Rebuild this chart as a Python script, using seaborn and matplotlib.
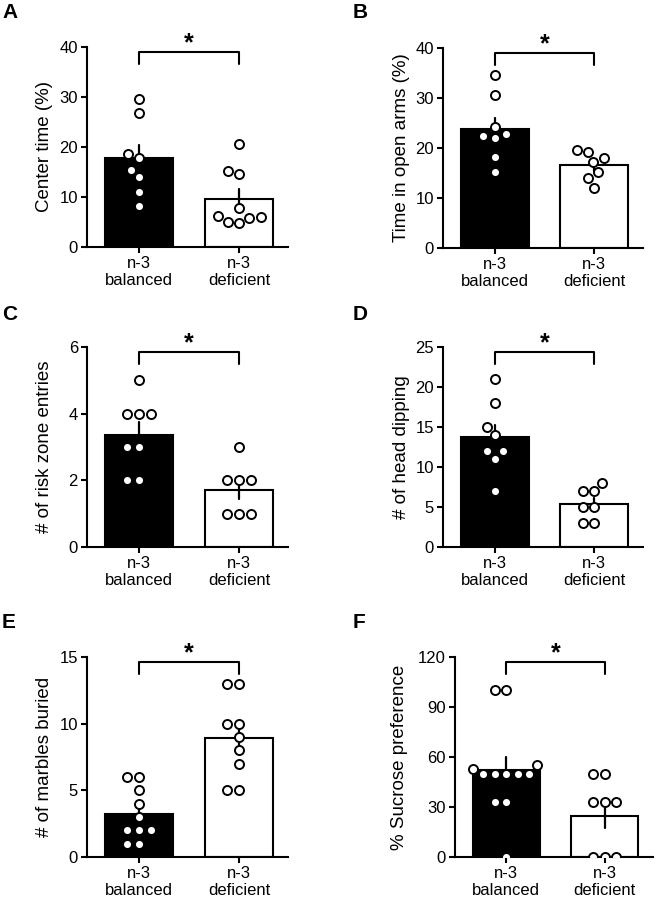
import matplotlib
matplotlib.use("Agg")
import pandas as pd
import matplotlib.pyplot as plt
import matplotlib.transforms as mtransforms
import seaborn as sns

groups = ["n-3\nbalanced", "n-3\ndeficient"]

# individual animals
center_bal = [29.7, 26.8, 18.7, 17.8, 15.5, 14.0, 11.1, 8.3]
center_def = [20.7, 15.3, 14.7, 7.9, 6.2, 5.9, 4.9, 5.1, 6.0]
openarm_bal = [34.7, 30.7, 24.3, 22.8, 22.5, 22.1, 18.3, 15.3]
openarm_def = [19.7, 19.3, 18.1, 17.3, 15.3, 14.0, 12.1]
risk_bal = [5, 4, 4, 4, 3, 3, 2, 2]
risk_def = [3, 2, 2, 2, 1, 1, 1]
dip_bal = [21, 18, 15, 14, 12, 12, 11, 7]
dip_def = [8, 7, 7, 5, 5, 3, 3]
marble_bal = [6, 6, 5, 4, 3, 2, 2, 2, 1, 1]
marble_def = [13, 13, 10, 10, 9, 8, 7, 5, 5]
sucrose_bal = [100, 100, 53, 55, 50, 50, 50, 50, 50, 33, 33, 0]
sucrose_def = [50, 50, 33, 33, 33, 0, 0, 0]

letters = ["A", "B", "C", "D", "E", "F"]
ylabels = ["Center time (%)", "Time in open arms (%)", "# of risk zone entries",
           "# of head dipping", "# of marbles buried", "% Sucrose preference"]
yticks = [[0, 10, 20, 30, 40], [0, 10, 20, 30, 40], [0, 2, 4, 6],
          [0, 5, 10, 15, 20, 25], [0, 5, 10, 15], [0, 30, 60, 90, 120]]
datasets = [(center_bal, center_def), (openarm_bal, openarm_def), (risk_bal, risk_def),
            (dip_bal, dip_def), (marble_bal, marble_def), (sucrose_bal, sucrose_def)]

W, H = 656, 900
# axes boxes in pixels: left spine x, y of zero line, width, height
boxes = [(87, 247, 201, 200), (443, 248, 200, 200),
         (87, 547, 201, 200), (443, 547, 200, 200),
         (87, 857, 201, 200), (455, 857, 198, 200)]
letter_pos = [(2, 13), (353, 13), (2, 314), (353, 314), (2, 622), (353, 622)]
ylab_x = [-0.17, -0.165, -0.17, -0.165, -0.17, -0.235]

sns.set_style("ticks")
plt.rcParams['font.family'] = ['Liberation Sans', 'DejaVu Sans']
for key in ["text.color", "axes.labelcolor", "xtick.color", "ytick.color", "axes.edgecolor"]:
    plt.rcParams[key] = "black"

fig = plt.figure(figsize=(W / 100, H / 100), dpi=100)

for i in range(6):
    bal, dfc = datasets[i]
    df = pd.DataFrame({
        "group": [groups[0]] * len(bal) + [groups[1]] * len(dfc),
        "value": bal + dfc,
    })
    x0, y0, w, h = boxes[i]
    ax = fig.add_axes([x0 / W, 1 - y0 / H, w / W, h / H])

    sns.barplot(data=df, x="group", y="value", order=groups, hue="group",
                palette=["black", "white"], edgecolor="black", linewidth=1.5,
                width=0.68, errorbar="se", capsize=0,
                err_kws={"color": "black", "linewidth": 1.6}, legend=False, ax=ax)
    sns.swarmplot(data=df, x="group", y="value", order=groups, color="white",
                  edgecolor="black", linewidth=1.4, size=6.5, zorder=3, ax=ax)

    ax.set_xlim(-0.52, 1.49)
    ax.set_ylim(0, yticks[i][-1])
    ax.set_yticks(yticks[i])
    ax.set_xlabel("")
    ax.set_ylabel(ylabels[i], fontsize=13.5)
    ax.yaxis.set_label_coords(ylab_x[i], 0.5)
    sns.despine(ax=ax)
    for s in ["left", "bottom"]:
        ax.spines[s].set_linewidth(1.5)
    ax.tick_params(axis="both", labelsize=12, width=1.5, length=4.5, pad=2)
    for lab in ax.get_xticklabels():
        lab.set_linespacing(1.15)

    # significance bracket
    trans = mtransforms.blended_transform_factory(ax.transData, ax.transAxes)
    ax.plot([0, 0, 1, 1], [0.917, 0.976, 0.976, 0.917], color="black", lw=1.5,
            transform=trans, clip_on=False)
    ax.text(0.5, 0.958, "*", transform=trans, ha="center", va="bottom",
            fontsize=18, fontweight="bold")

    lx, ly = letter_pos[i]
    fig.text(lx / W, 1 - ly / H, letters[i], fontsize=15, fontweight="bold",
             ha="left", va="center")

fig.savefig("out.png", dpi=100)
